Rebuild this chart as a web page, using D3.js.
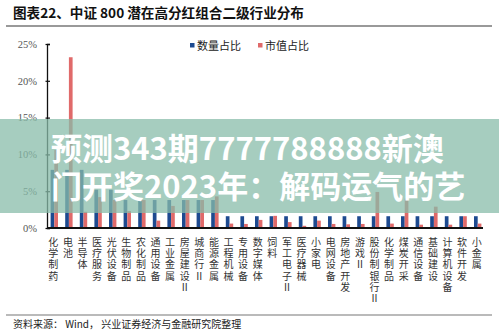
<!DOCTYPE html>
<html>
<head>
<meta charset="utf-8">
<script src="https://cdn.jsdelivr.net/npm/d3@7"></script>
<style>
  body { margin: 0; background: #fff; }
  svg { display: block; }
</style>
</head>
<body>
<div id="wrapper"></div>
<script>
// data
const categories = ["化学制药", "电池", "半导体", "医疗服务", "光伏设备", "生物制品", "农化制品", "通用设备",
  "工业金属", "房屋建设Ⅱ", "城商行Ⅱ", "能源金属", "工程机械", "专用设备", "数字媒体", "饲料", "军工电子Ⅱ",
  "医疗器械", "小家电", "电网设备", "房地产开发", "游戏Ⅱ", "股份制银行Ⅱ", "化学制品", "煤炭开采", "通信设备",
  "基础建设", "计算机设备", "软件开发", "小金属"]
const countShare = [7.9, 7.9, 7.9, 5.2, 5.2, 3.8, 3.8, 3.8, 3.8, 3.8, 3.8, 3.8, 1.6, 1.6, 1.6, 1.6, 1.6,
  1.6, 1.6, 1.6, 1.6, 1.6, 1.6, 1.6, 1.6, 1.6, 1.6, 1.6, 1.6, 1.6]
const capShare = [10.6, 23.2, 2.2, 4.2, 3.8, 2.3, 3.8, 1.0, 3.0, 3.8, 3.8, 4.3, 0.6, 0.55, 1.1, 1.65, 0.8,
  0.3, 1.0, 0.55, 0.5, 0.55, 4.9, 0.6, 4.0, 0.45, 2.9, 0.45, 1.6, 0.6]
const seriesNames = ["数量占比", "市值占比"]
const yTicks = [0, 5, 10, 15, 20, 25]
const titleText = "图表22、中证 800 潜在高分红组合二级行业分布"
const sourceText = "资料来源： Wind， 兴业证券经济与金融研究院整理"
const overlayLines = ["预测343期7777788888新澳", "门开奖2023年：解码运气的艺"]

const colors = ["#1d4a90", "#e06a6a"]
const cjk = '"Noto Sans CJK SC", sans-serif'

let dimensions = {
  width: 499,
  height: 336,
  margin: { top: 44, right: 14, bottom: 108, left: 47 },
}
dimensions.boundedWidth = dimensions.width - dimensions.margin.left - dimensions.margin.right
dimensions.boundedHeight = dimensions.height - dimensions.margin.top - dimensions.margin.bottom

const wrapper = d3.select("#wrapper")
  .append("svg")
    .attr("width", dimensions.width)
    .attr("height", dimensions.height)

// header + footer
wrapper.append("text")
    .attr("x", 13).attr("y", 18)
    .style("font-family", cjk).style("font-weight", 700)
    .style("font-size", "13.6px").attr("fill", "#111")
    .text(titleText)
wrapper.append("line")
    .attr("x1", 6).attr("x2", 492).attr("y1", 26).attr("y2", 26)
    .attr("stroke", "#777").attr("stroke-width", 1.5)
wrapper.append("line")
    .attr("x1", 6).attr("x2", 492).attr("y1", 315).attr("y2", 315)
    .attr("stroke", "#777").attr("stroke-width", 1.2)
wrapper.append("text")
    .attr("x", 13).attr("y", 328)
    .style("font-family", cjk).style("font-size", "10px").attr("fill", "#222")
    .text(sourceText)

const bounds = wrapper.append("g")
    .attr("transform", `translate(${dimensions.margin.left},${dimensions.margin.top})`)

// scales
const xScale = d3.scaleBand()
  .domain(categories)
  .range([0, dimensions.boundedWidth])

const subScale = d3.scaleBand()
  .domain(seriesNames)
  .range([-3.7, 3.7])

const yScale = d3.scaleLinear()
  .domain([0, 25])
  .range([dimensions.boundedHeight, 0])

// bars
const rows = categories.map((c, i) => ({ cat: c, values: [countShare[i], capShare[i]] }))
const groups = bounds.selectAll(".grp")
  .data(rows)
  .join("g")
    .attr("class", "grp")
    .attr("transform", d => `translate(${xScale(d.cat) + xScale.bandwidth() / 2},0)`)

groups.selectAll("rect")
  .data(d => d.values.map((v, k) => ({ key: seriesNames[k], v, k })))
  .join("rect")
    .attr("x", d => subScale(d.key))
    .attr("width", subScale.bandwidth())
    .attr("y", d => yScale(d.v))
    .attr("height", d => dimensions.boundedHeight - yScale(d.v))
    .attr("fill", d => colors[d.k])

// y axis
const yAxis = bounds.append("g")
  .call(d3.axisLeft(yScale).tickValues(yTicks).tickSize(-3).tickPadding(10)
    .tickFormat(d => d + "%"))
yAxis.select(".domain").attr("stroke", "#111").attr("stroke-width", 1.3)
yAxis.selectAll(".tick line").attr("stroke", "#111").attr("stroke-width", 1.2).attr("x1", -1.5)
yAxis.selectAll(".tick text")
    .style("font-family", '"Liberation Serif", serif').style("font-size", "10.5px")
    .attr("fill", "#555")

// x axis line
bounds.append("line")
    .attr("x1", 0).attr("x2", dimensions.boundedWidth - 2)
    .attr("y1", dimensions.boundedHeight).attr("y2", dimensions.boundedHeight)
    .attr("stroke", "#111").attr("stroke-width", 2)

// vertical category labels (upright glyphs, top to bottom)
bounds.append("g")
  .selectAll("text")
  .data(categories)
  .join("text")
    .attr("x", d => xScale(d) + xScale.bandwidth() / 2 - 1)
    .attr("y", dimensions.boundedHeight + 9)
    .style("writing-mode", "vertical-rl")
    .style("text-orientation", "upright")
    .style("letter-spacing", "1.3px")
    .style("font-family", cjk).style("font-size", "10px").attr("fill", "#333")
    .text(d => d)

// legend
const legend = wrapper.append("g")
const legendX = [190, 258]
seriesNames.forEach((name, k) => {
  legend.append("rect")
      .attr("x", legendX[k]).attr("y", 43).attr("width", 4.5).attr("height", 4.5)
      .attr("fill", colors[k])
  legend.append("text")
      .attr("x", legendX[k] + 7).attr("y", 49.5)
      .style("font-family", cjk).style("font-size", "11px").attr("fill", "#222")
      .text(name)
})

// translucent banner laid over the picture
wrapper.append("rect")
    .attr("x", 0).attr("y", 119).attr("width", dimensions.width).attr("height", 94)
    .attr("fill", "rgb(136,188,170)").attr("fill-opacity", 0.75)
overlayLines.forEach((line, i) => {
  wrapper.append("text")
      .attr("x", 51).attr("y", 160 + i * 38)
      .style("font-family", cjk).style("font-weight", 700).style("font-size", "31px")
      .attr("fill", "#fff")
      .text(line)
})
</script>
</body>
</html>
